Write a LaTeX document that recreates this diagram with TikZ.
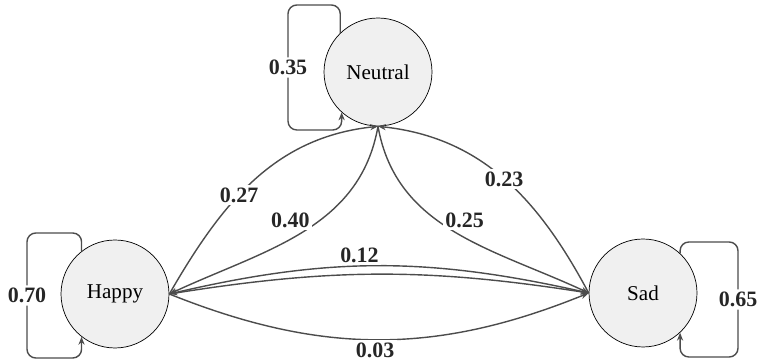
\documentclass[tikz,border=0pt]{standalone}
\usepackage{fontspec}
\setmainfont{Liberation Serif}
\usetikzlibrary{arrows.meta,positioning}

\begin{document}
\begin{tikzpicture}[
    x=0.02cm, y=0.02cm,
    state/.style={circle, draw, thin, fill=gray!12, minimum size=2.16cm, font=\fontsize{12}{14}\selectfont},
    trans/.style={draw=black!70, line width=0.8pt, -{Stealth[length=4.5pt,width=3.5pt]}},
    loopline/.style={trans, rounded corners=5pt},
    prob/.style={font=\fontsize{12.5}{14}\selectfont\bfseries, text=black!85, fill=white, inner sep=1.5pt}
]
\useasboundingbox (0,0) rectangle (759,364);

\node[state] (neutral) at (378,292) {Neutral};
\node[state] (happy) at (115,70) {Happy};
\node[state] (sad) at (643,71) {Sad};

% self loops
\draw[loopline] (neutral.134) |- (288,359) -- node[prob] {0.35} (288,234) -| (neutral.228);
\draw[loopline] (happy.128) |- (27,131) -- node[prob] {0.70} (27,6) -| (happy.232);
\draw[loopline] (sad.47) |- (738,122) -- node[prob] {0.65} (738,7) -| (sad.313);

% transitions
\draw[trans] (happy.east) to[out=60,in=186] node[prob,pos=0.42] {0.27} (neutral.south);
\draw[trans] (sad.west) to[out=118,in=-6] node[prob,pos=0.5] {0.23} (neutral.south);
\draw[trans] (neutral.south) to[out=260,in=25] node[prob,pos=0.42,left=4pt] {0.40} (happy.east);
\draw[trans] (neutral.south) to[out=280,in=155] node[prob,pos=0.42,right=3pt] {0.25} (sad.west);
\draw[trans] (sad.west) to[bend right=13] node[prob,above,pos=0.55] {0.12} (happy.east);
\draw[trans] (happy.east) to[bend left=9] (sad.west);
\draw[trans] (happy.east) to[bend right=22] node[prob,below,pos=0.49] {0.03} (sad.west);

\end{tikzpicture}
\end{document}
